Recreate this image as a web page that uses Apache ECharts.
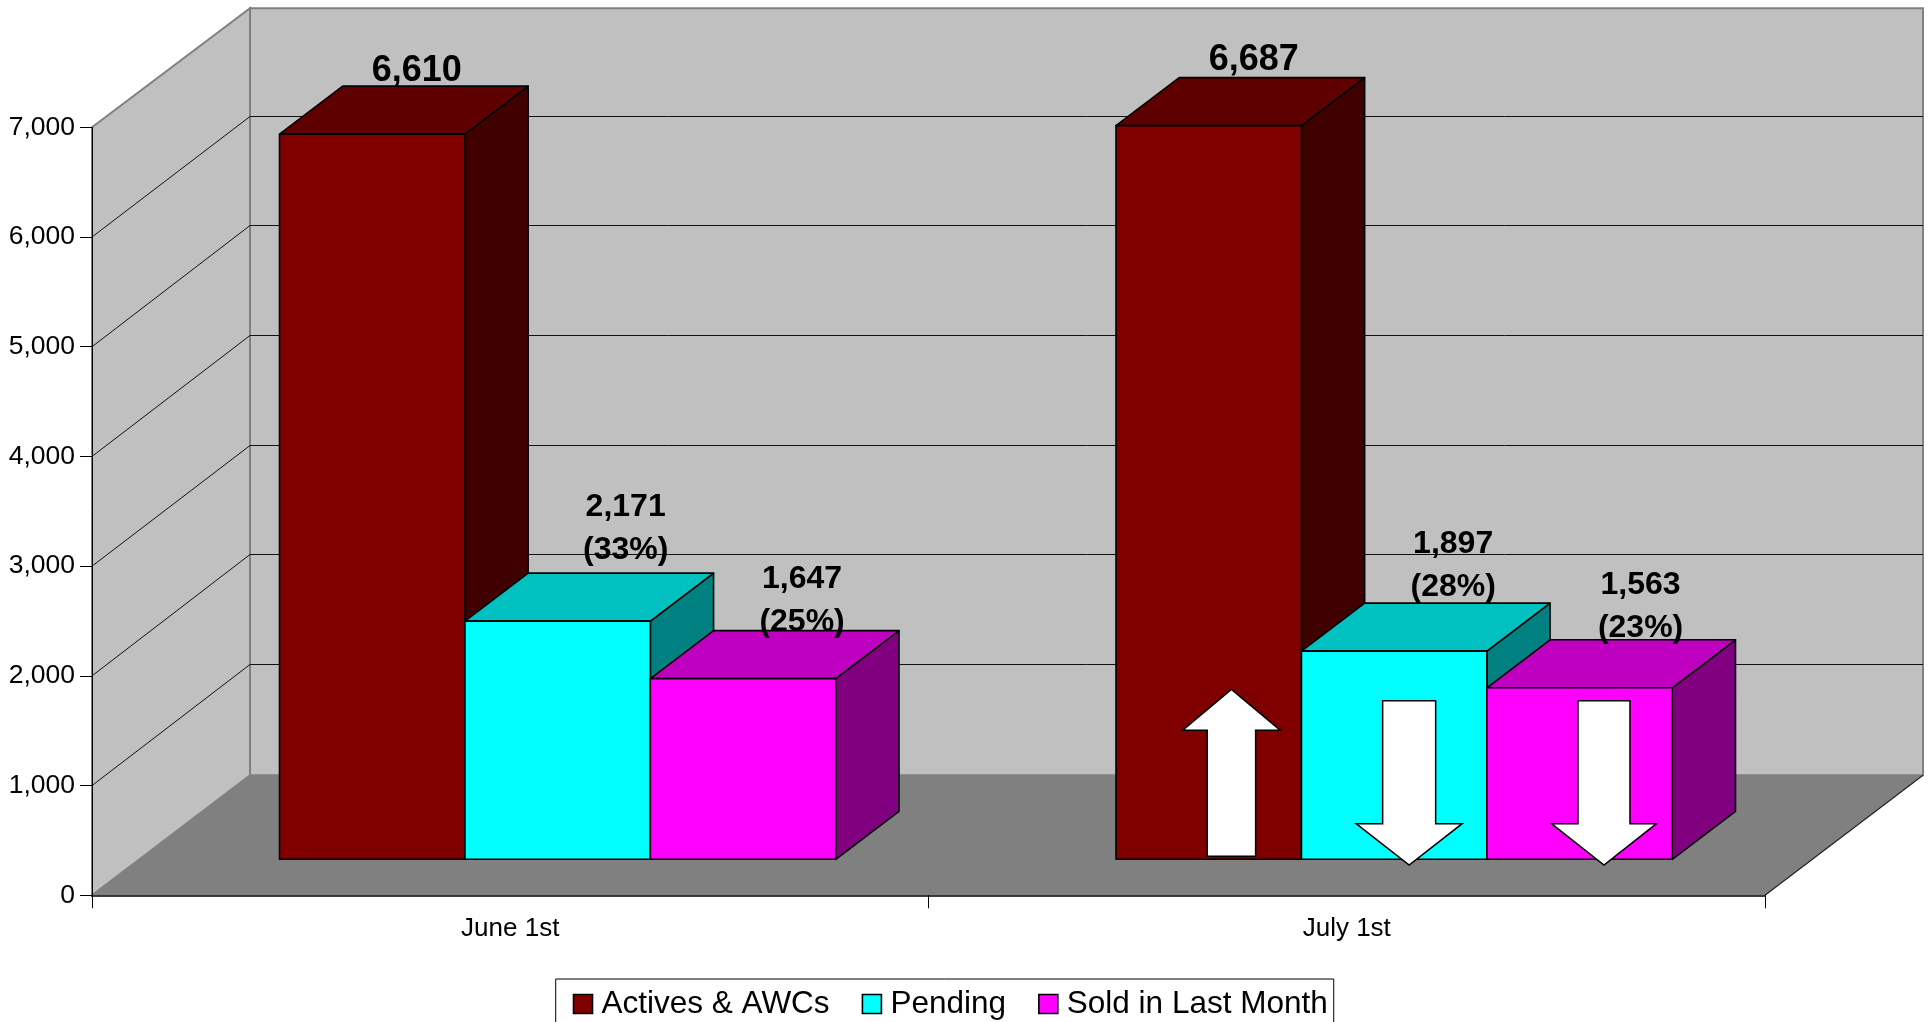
<!DOCTYPE html>
<html>
<head>
<meta charset="utf-8">
<style>html,body{margin:0;padding:0;background:#fff;overflow:hidden}#c{width:1929px;height:1022px}</style>
<script src="https://cdn.jsdelivr.net/npm/echarts@6/dist/echarts.min.js"></script>
</head>
<body>
<div id="c"></div>
<script>
// ---- data ----
const categories = ['June 1st', 'July 1st'];
const seriesNames = ['Actives & AWCs', 'Pending', 'Sold in Last Month'];
const activesValues = [6610, 6687];
const pendingValues = [2171, 1897];
const soldValues = [1647, 1563];
const activesPct = ['', ''];
const pendingPct = ['33%', '28%'];
const soldPct = ['25%', '23%'];
const yTicks = [0, 1000, 2000, 3000, 4000, 5000, 6000, 7000];

// ---- look ----
const FONT = '"Liberation Sans", Arial, sans-serif';
const palette = [
  {front: '#800000', top: '#5e0000', side: '#400000'},
  {front: '#00ffff', top: '#00c0c0', side: '#008080'},
  {front: '#ff00ff', top: '#c000c0', side: '#800080'}
];
const WALL_DX = 158, WALL_DY = 120;          // depth of the plot box
const FRONT_FRAC = 0.3, BAR_FRAC = 0.4;      // where bars stand within the depth
const GAP_FRAC = 0.1675;                     // side gap in a category band
const labelDx = [[44.6, 45], [68, 59], [59, 61]];
const labelDy = [[-63, -65.7], [-114, -107.3], [-99.6, -103]];
const labelFont = [36, 32, 32];
const PCT_GAP = 43;

function barBox(api, cat, seriesIdx, value) {
  const base = api.coord([cat, 0]);
  const band = api.size([1, 0])[0];
  const shiftX = WALL_DX * FRONT_FRAC, shiftY = WALL_DY * FRONT_FRAC;
  const bw = band * (1 - 2 * GAP_FRAC) / 3;
  const left = base[0] - band / 2 + band * GAP_FRAC + shiftX + seriesIdx * bw;
  const bottom = base[1] - shiftY;
  const top = api.coord([cat, value])[1] - shiftY;
  return {left, right: left + bw, top, bottom, ddx: WALL_DX * BAR_FRAC, ddy: WALL_DY * BAR_FRAC};
}

function barRenderer(seriesIdx, pct) {
  return function (params, api) {
    const cat = api.value(0), v = api.value(1);
    const b = barBox(api, cat, seriesIdx, v);
    const c = palette[seriesIdx];
    const edge = {stroke: '#000', lineWidth: 1.6, lineJoin: 'round'};
    const poly = (points, fill) => ({type: 'polygon', shape: {points}, style: Object.assign({fill}, edge)});
    const cx = (b.left + b.right) / 2 + labelDx[seriesIdx][cat];
    const y1 = b.top + labelDy[seriesIdx][cat];
    const txt = (text, y) => ({
      type: 'text',
      style: {text, x: cx, y, fill: '#000', fontFamily: FONT, fontWeight: 'bold',
              fontSize: labelFont[seriesIdx], align: 'center', verticalAlign: 'middle'}
    });
    const kids = [
      poly([[b.right, b.top], [b.right + b.ddx, b.top - b.ddy], [b.right + b.ddx, b.bottom - b.ddy], [b.right, b.bottom]], c.side),
      poly([[b.left, b.top], [b.left + b.ddx, b.top - b.ddy], [b.right + b.ddx, b.top - b.ddy], [b.right, b.top]], c.top),
      poly([[b.left, b.top], [b.right, b.top], [b.right, b.bottom], [b.left, b.bottom]], c.front),
      txt(v.toLocaleString('en-US'), y1)
    ];
    if (pct[cat]) kids.push(txt('(' + pct[cat] + ')', y1 + PCT_GAP));
    return {type: 'group', children: kids};
  };
}

function wallRenderer(params, api) {
  const v = api.value(1);
  const band = api.size([1, 0])[0];
  const base = api.coord([0, 0]);
  const xL = base[0] - band / 2, xR = xL + 2 * band;
  const y0 = base[1], y = api.coord([0, v])[1];
  const yTop = api.coord([0, yTicks[yTicks.length - 1]])[1];
  const kids = [];
  if (v === 0) {
    const g = {stroke: '#808080', lineWidth: 2};
    const backTop = yTop - WALL_DY + 1;
    kids.push(
      {type: 'polygon', shape: {points: [[xL + WALL_DX, backTop], [xR + WALL_DX, backTop], [xR + WALL_DX, y0 - WALL_DY], [xL + WALL_DX, y0 - WALL_DY]]},
       style: Object.assign({fill: '#c0c0c0'}, g)},
      {type: 'polygon', shape: {points: [[xL, yTop], [xL + WALL_DX, backTop], [xL + WALL_DX, y0 - WALL_DY], [xL, y0]]},
       style: Object.assign({fill: '#c0c0c0'}, g)},
      {type: 'polygon', shape: {points: [[xL, y0], [xL + WALL_DX, y0 - WALL_DY], [xR + WALL_DX, y0 - WALL_DY], [xR, y0]]},
       style: {fill: '#808080'}},
      {type: 'line', shape: {x1: xR, y1: y0, x2: xR + WALL_DX, y2: y0 - WALL_DY}, style: {stroke: '#222', lineWidth: 1.2}}
    );
  } else if (v < yTicks[yTicks.length - 1]) {
    const s = {stroke: '#111', lineWidth: 1};
    const yBack = Math.floor(y - WALL_DY) - 0.5;
    kids.push(
      {type: 'line', shape: {x1: xL, y1: y, x2: xL + WALL_DX, y2: yBack}, style: s},
      {type: 'line', shape: {x1: xL + WALL_DX, y1: yBack, x2: xR + WALL_DX, y2: yBack}, style: s}
    );
  }
  return {type: 'group', children: kids};
}

// Change arrows, anchored on the July bars
const arrows = [
  {series: 0, values: activesValues, dir: 'up',   dx: 22.7, headHalf: 49,   shaftHalf: 24.2},
  {series: 1, values: pendingValues, dir: 'down', dx: 15,   headHalf: 53,   shaftHalf: 26.5},
  {series: 2, values: soldValues,    dir: 'down', dx: 24.4, headHalf: 52.5, shaftHalf: 26}
];
function arrowRenderer(params, api) {
  const a = arrows[params.dataIndex];
  const b = barBox(api, 1, a.series, a.values[1]);
  const x = (b.left + b.right) / 2 + a.dx, z = b.bottom;
  const H = a.headHalf, S = a.shaftHalf;
  const pts = a.dir === 'up'
    ? [[x, z - 170], [x + H, z - 129], [x + S, z - 129], [x + S, z - 3], [x - S, z - 3], [x - S, z - 129], [x - H, z - 129]]
    : [[x - S, z - 158.6], [x + S, z - 158.6], [x + S, z - 35.6], [x + H, z - 35.6], [x, z + 5.7], [x - H, z - 35.6], [x - S, z - 35.6]];
  return {type: 'polygon', shape: {points: pts}, style: {fill: '#fff', stroke: '#000', lineWidth: 1.5, lineJoin: 'miter'}};
}

const toRows = vals => vals.map((v, i) => [i, v]);
const chart = echarts.init(document.getElementById('c'), null, {renderer: 'canvas'});
chart.setOption({
  animation: false,
  backgroundColor: '#fff',
  textStyle: {fontFamily: FONT},
  grid: {left: 92, right: 1929 - 1765, top: 127.3, bottom: 1022 - 895.3, containLabel: false},
  xAxis: {
    type: 'category', data: categories,
    axisLine: {show: true, lineStyle: {color: '#000', width: 1.6}},
    axisTick: {show: true, alignWithLabel: false, length: 13, lineStyle: {color: '#000', width: 1}},
    axisLabel: {fontFamily: FONT, fontSize: 26, color: '#000', margin: 21},
    splitLine: {show: false}
  },
  yAxis: {
    type: 'value', min: 0, max: 7000, interval: 1000,
    axisLine: {show: true, lineStyle: {color: '#000', width: 1}},
    axisTick: {show: true, length: 12, lineStyle: {color: '#000', width: 1}},
    axisLabel: {fontFamily: FONT, fontSize: 26.5, color: '#000', margin: 17, padding: [3, 0, 0, 0],
                formatter: v => v.toLocaleString('en-US')},
    splitLine: {show: false}
  },
  legend: {
    show: true, left: 555.7, top: 979, orient: 'horizontal',
    data: seriesNames, icon: 'rect', itemWidth: 19, itemHeight: 19, itemGap: 32,
    selectedMode: false,
    padding: [9, 6, 12, 17],
    borderColor: '#000', borderWidth: 1, backgroundColor: '#fff',
    itemStyle: {borderColor: '#000', borderWidth: 1.6},
    textStyle: {fontFamily: FONT, fontSize: 31.5, color: '#000', padding: [0, 0, 0, 4]}
  },
  series: [
    {type: 'custom', name: 'Walls', z: -1, silent: true, clip: false, renderItem: wallRenderer,
     data: yTicks.map(v => [0, v]), encode: {x: 0, y: 1}},
    {type: 'custom', name: seriesNames[0], z: 2, clip: false, itemStyle: {color: palette[0].front},
     renderItem: barRenderer(0, activesPct), data: toRows(activesValues), encode: {x: 0, y: 1}},
    {type: 'custom', name: seriesNames[1], z: 3, clip: false, itemStyle: {color: palette[1].front},
     renderItem: barRenderer(1, pendingPct), data: toRows(pendingValues), encode: {x: 0, y: 1}},
    {type: 'custom', name: seriesNames[2], z: 4, clip: false, itemStyle: {color: palette[2].front},
     renderItem: barRenderer(2, soldPct), data: toRows(soldValues), encode: {x: 0, y: 1}},
    {type: 'custom', name: 'Change arrows', z: 6, silent: true, clip: false, renderItem: arrowRenderer,
     data: arrows.map(a => [1, a.values[1]]), encode: {x: 0, y: 1}}
  ]
});
</script>
</body>
</html>
